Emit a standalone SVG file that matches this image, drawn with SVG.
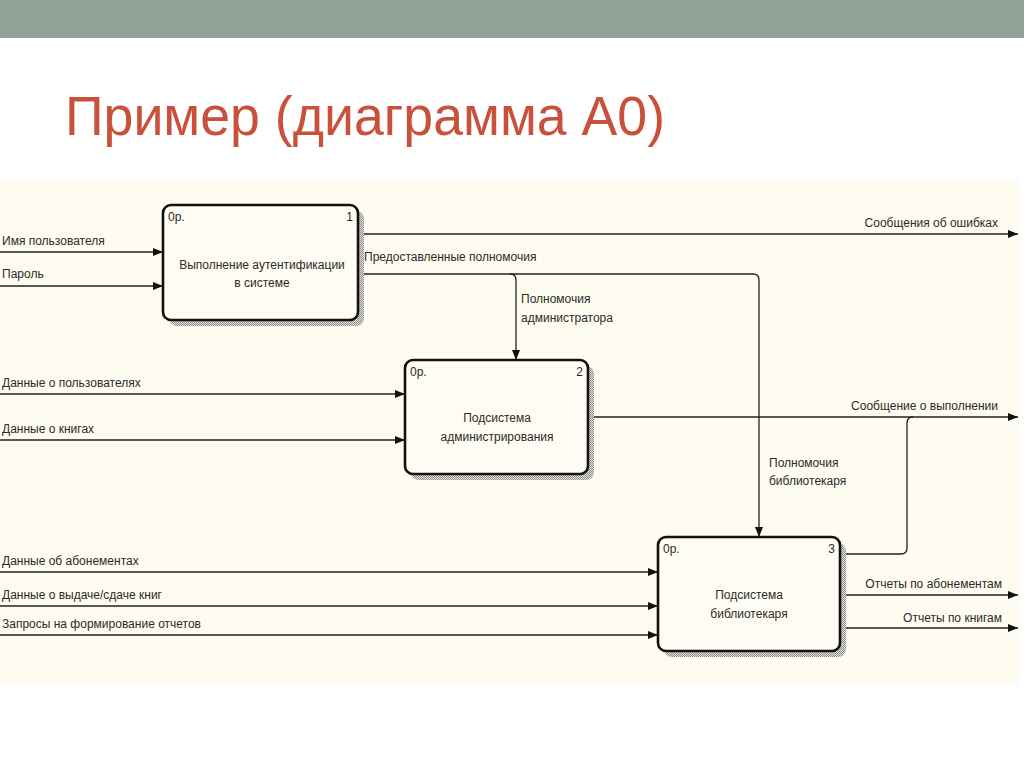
<svg xmlns="http://www.w3.org/2000/svg" width="1024" height="767" viewBox="0 0 1024 767">
<defs>
<pattern id="hatch" width="2" height="2" patternUnits="userSpaceOnUse">
<rect width="2" height="2" fill="#e6e4dc"/>
<rect width="1" height="1" fill="#8a8a86"/>
<rect x="1" y="1" width="1" height="1" fill="#8a8a86"/>
</pattern>
<marker id="arr" viewBox="0 0 10 8" refX="10" refY="4" markerWidth="10" markerHeight="8" markerUnits="userSpaceOnUse" orient="auto">
<path d="M0,0 L10,4 L0,8 Z" fill="#111"/>
</marker>
<style>
.t{font-family:"Liberation Sans",Arial,sans-serif;font-size:12px;fill:#2a2a2a}
.c{stroke:#222;stroke-width:1.3;fill:none}
.a{marker-end:url(#arr)}
.box{fill:#fffdf3;stroke:#111;stroke-width:2.6}
.sh{fill:url(#hatch)}
.title{font-family:"Liberation Sans",Arial,sans-serif;font-size:56px;fill:#c9503a}
</style>
</defs>
<rect width="1024" height="767" fill="#ffffff"/>
<rect x="0" y="0" width="1024" height="38" fill="#90a298"/>
<text class="title" x="65" y="135" textLength="600" lengthAdjust="spacingAndGlyphs">Пример (диаграмма А0)</text>
<rect x="0" y="180" width="1020" height="504" fill="#fefcf0"/>

<g id="connectors">
<path class="c a" d="M0,252 H163"/>
<text class="t" x="2" y="245">Имя пользователя</text>
<path class="c a" d="M0,286 H163"/>
<text class="t" x="2" y="278">Пароль</text>
<path class="c a" d="M358,234 H1018"/>
<text class="t" x="998" y="227" text-anchor="end">Сообщения об ошибках</text>
<path class="c a" d="M358,274 H753 Q759,274 759,280 V537"/>
<path class="c a" d="M510,274 Q516,274 516,280 V360"/>
<text class="t" x="364" y="261">Предоставленные полномочия</text>
<text class="t" x="521" y="303">Полномочия</text>
<text class="t" x="521" y="322">администратора</text>
<text class="t" x="769" y="467">Полномочия</text>
<text class="t" x="769" y="485">библиотекаря</text>
<path class="c a" d="M0,394 H405"/>
<text class="t" x="2" y="387">Данные о пользователях</text>
<path class="c a" d="M0,440 H405"/>
<text class="t" x="2" y="433">Данные о книгах</text>
<path class="c a" d="M588,417 H1018"/>
<text class="t" x="998" y="410" text-anchor="end">Сообщение о выполнении</text>
<path class="c" d="M840,554 H901 Q907,554 907,548 V423 Q907,417 913,417"/>
<path class="c a" d="M0,572 H658"/>
<text class="t" x="2" y="565">Данные об абонементах</text>
<path class="c a" d="M0,606 H658"/>
<text class="t" x="2" y="599">Данные о выдаче/сдаче книг</text>
<path class="c a" d="M0,635 H658"/>
<text class="t" x="2" y="628">Запросы на формирование отчетов</text>
<path class="c a" d="M840,595 H1018"/>
<text class="t" x="1002" y="588" text-anchor="end">Отчеты по абонементам</text>
<path class="c a" d="M840,628 H1018"/>
<text class="t" x="1002" y="622" text-anchor="end">Отчеты по книгам</text>
</g>

<g id="node1">
<rect class="sh" x="169" y="211" width="195" height="115" rx="8"/>
<rect class="box" x="163" y="205" width="195" height="115" rx="8"/>
<text class="t" x="168" y="221">0р.</text>
<text class="t" x="353" y="221" text-anchor="end">1</text>
<text class="t" x="262" y="269" text-anchor="middle">Выполнение аутентификации</text>
<text class="t" x="262" y="287" text-anchor="middle">в системе</text>
</g>

<g id="node2">
<rect class="sh" x="411" y="366" width="183" height="114" rx="8"/>
<rect class="box" x="405" y="360" width="183" height="114" rx="8"/>
<text class="t" x="410" y="376">0р.</text>
<text class="t" x="583" y="376" text-anchor="end">2</text>
<text class="t" x="497" y="422" text-anchor="middle">Подсистема</text>
<text class="t" x="497" y="441" text-anchor="middle">администрирования</text>
</g>

<g id="node3">
<rect class="sh" x="664" y="543" width="182" height="114" rx="8"/>
<rect class="box" x="658" y="537" width="182" height="114" rx="8"/>
<text class="t" x="663" y="553">0р.</text>
<text class="t" x="835" y="553" text-anchor="end">3</text>
<text class="t" x="749" y="599" text-anchor="middle">Подсистема</text>
<text class="t" x="749" y="618" text-anchor="middle">библиотекаря</text>
</g>
</svg>
